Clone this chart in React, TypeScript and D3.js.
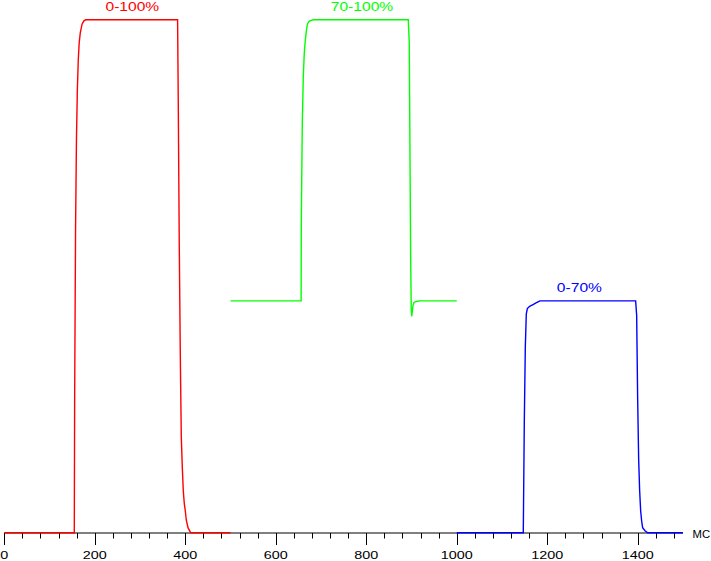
import React from "react";
import * as d3 from "d3";

// time (ms), level (% of max luminance)
const redSeries: [number, number][] = [
  [0, 0], [154.7, 0], [155.5, 26.4], [157.5, 59.4], [159.5, 76.8], [161.5, 86.5],
  [163.5, 92.2], [165.5, 95.5], [168, 97.5], [172, 99.2], [176, 99.8], [180, 100],
  [383, 100], [384.5, 83.8], [386.7, 56.1], [389, 34.4], [391.2, 18.6], [393.4, 12.8],
  [395.6, 8.2], [397.8, 5.7], [400, 4.3], [402.2, 2.5], [406, 1], [412, 0], [500, 0],
];

const greenSeries: [number, number][] = [
  [500, 45.2], [656, 45.2], [656.4, 60.6], [658.6, 79.9], [660.8, 88.9], [663, 93.5],
  [665.2, 96], [667.4, 97.7], [669.6, 99], [671.8, 99.5], [675.5, 99.8], [682.8, 100],
  [892.8, 100], [895, 95.6], [896.6, 73.6], [898.1, 53.8], [899.4, 43.6], [900.4, 42.2],
  [903.2, 44.3], [905.5, 44.9], [909.9, 45.1], [918.7, 45.2], [1000, 45.2],
];

const blueSeries: [number, number][] = [
  [1000, 0], [1147, 0], [1147.5, 4.7], [1149.3, 21.9], [1151.5, 36.2], [1153.7, 42.7],
  [1156, 43.7], [1158.2, 43.9], [1162, 44.2], [1168.6, 44.5], [1175.2, 44.8],
  [1179.6, 45], [1184, 45.2], [1395.3, 45.2], [1397.6, 42.4], [1399.8, 26.1],
  [1402, 14.4], [1404.2, 8.2], [1406.4, 4.3], [1408.6, 2.3], [1410.8, 1],
  [1416, 0.4], [1422, 0], [1500, 0],
];

const seriesColors = ["#ff0000", "#00ff00", "#0000ff"];
const seriesLabels = ["0-100%", "70-100%", "0-70%"];
const labelTimes = [283, 790.5, 1271];
const labelLevels = [100, 100, 45.2];

const majorTicks = [0, 200, 400, 600, 800, 1000, 1200, 1400];
const minorTicks = d3.range(0, 1500, 40);
const unitLabel = "МС";

const W = 711;
const H = 561;

export default function App() {
  const x = d3.scaleLinear().domain([0, 1500]).range([4.3, 683]);
  const y = d3.scaleLinear().domain([0, 100]).range([532.8, 19.8]);
  const line = d3
    .line<[number, number]>()
    .x((d) => x(d[0]))
    .y((d) => y(d[1]))
    .curve(d3.curveLinear);
  const allSeries = [redSeries, greenSeries, blueSeries];
  const axisY = 533;
  const font = "'Liberation Sans', Arial, sans-serif";

  return (
    <svg
      width={W}
      height={H}
      style={{ position: "fixed", left: 0, top: 0, background: "#fff" }}
    >
      <rect width={W} height={H} fill="#fff" />
      {/* axis */}
      <line x1={x(0)} x2={x(1500)} y1={axisY} y2={axisY} stroke="#000" strokeWidth={1} />
      {minorTicks.map((t) => (
        <line
          key={"m" + t}
          x1={Math.round(x(t)) + 0.5}
          x2={Math.round(x(t)) + 0.5}
          y1={axisY}
          y2={majorTicks.includes(t) ? axisY + 12 : axisY + 5.5}
          stroke="#000"
          strokeWidth={1}
        />
      ))}
      {majorTicks.map((t) => (
        <text
          key={"l" + t}
          transform={`translate(${x(t)},559) scale(1.25,1)`}
          textAnchor="middle"
          fontFamily={font}
          fontSize={11.5}
          fill="#000"
        >
          {t}
        </text>
      ))}
      <text
        transform={`translate(692.5,538) scale(1.0,1)`}
        fontFamily={font}
        fontSize={11.3}
        fill="#000"
      >
        {unitLabel}
      </text>
      {/* series */}
      {allSeries.map((s, i) => (
        <path
          key={"s" + i}
          d={line(s) || ""}
          fill="none"
          stroke={seriesColors[i]}
          strokeWidth={1.4}
          strokeLinejoin="miter"
        />
      ))}
      {seriesLabels.map((lab, i) => (
        <text
          key={"t" + i}
          transform={`translate(${x(labelTimes[i])},${y(labelLevels[i]) - 9.3}) scale(1.2,1)`}
          textAnchor="middle"
          fontFamily={font}
          fontSize={13}
          fill={seriesColors[i]}
        >
          {lab}
        </text>
      ))}
    </svg>
  );
}
